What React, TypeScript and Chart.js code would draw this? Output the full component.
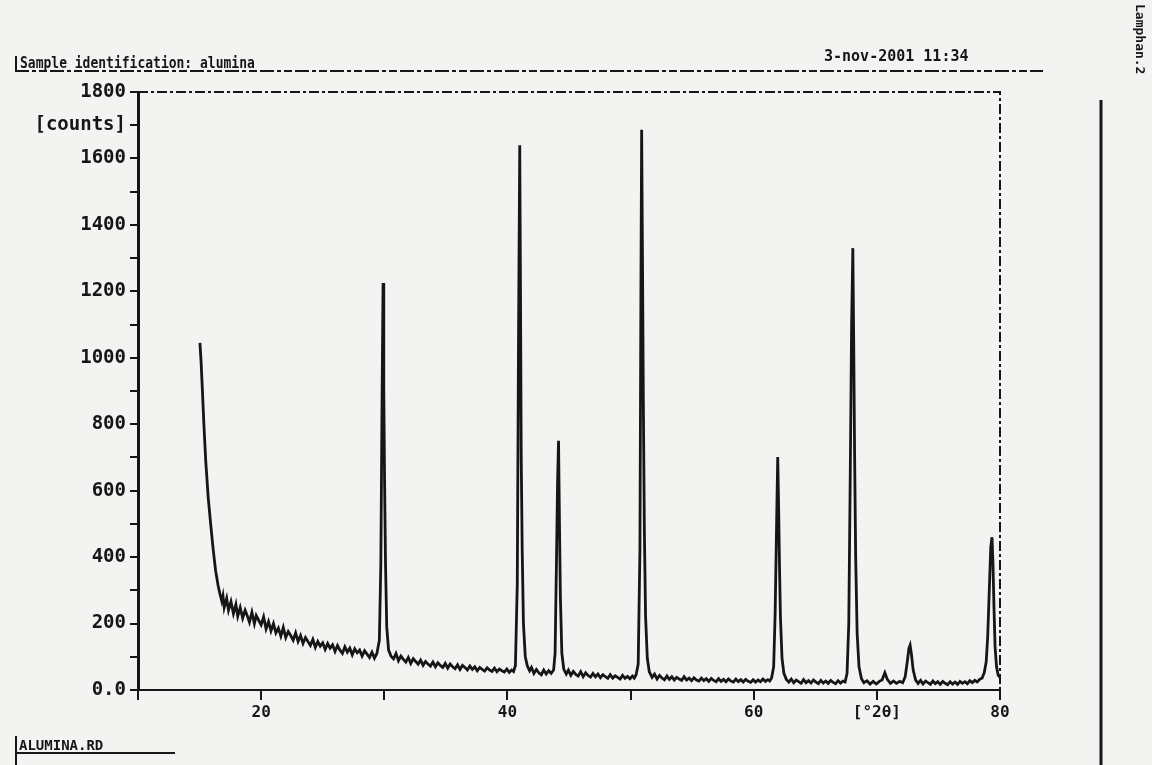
import React, { useEffect, useRef } from "react";
import { Chart, registerables } from "chart.js";

Chart.register(...registerables);

// ---- data: [2theta (deg), counts] ----
const lowAngle: [number, number][] = [
  [15.03, 1045], [15.12, 990], [15.22, 910], [15.35, 800], [15.5, 690], [15.7, 580], [15.9, 500], [16.1, 425],
  [16.3, 360], [16.5, 315], [16.65, 290], [16.8, 268], [16.9, 284], [17.0, 248], [17.2, 276], [17.35, 240],
  [17.55, 266], [17.75, 230], [17.95, 258], [18.1, 222], [18.3, 248], [18.5, 216], [18.7, 240], [18.85, 226],
  [19.05, 204], [19.25, 234], [19.45, 200], [19.6, 224], [19.8, 210], [20.0, 196], [20.2, 220], [20.4, 184],
  [20.6, 206], [20.8, 178], [21.0, 200], [21.2, 172], [21.4, 186], [21.6, 162], [21.8, 188], [22.0, 158],
  [22.2, 176], [22.4, 164], [22.6, 150], [22.8, 172], [23.0, 146], [23.2, 164], [23.4, 140], [23.6, 158],
  [23.8, 146], [24.0, 134], [24.2, 152], [24.4, 128], [24.6, 146], [24.8, 132], [25.0, 142], [25.2, 122],
  [25.4, 140], [25.6, 126], [25.8, 136], [26.0, 116], [26.2, 134], [26.4, 120], [26.6, 110], [26.8, 130],
  [27.0, 114], [27.2, 126], [27.4, 106], [27.6, 124], [27.8, 112], [28.0, 120], [28.2, 102], [28.4, 118],
  [28.6, 108], [28.8, 98], [29.0, 114], [29.2, 96], [29.4, 110],
];
const peak30: [number, number][] = [
  [29.6, 150], [29.72, 380], [29.82, 880], [29.9, 1225], [29.96, 900], [30.02, 640], [30.1, 380], [30.2, 190],
  [30.35, 120], [30.55, 102],
];
const midAngle: [number, number][] = [
  [30.75, 94], [30.95, 110], [31.15, 88], [31.35, 102], [31.55, 92], [31.75, 84], [31.95, 98], [32.15, 80],
  [32.35, 94], [32.55, 86], [32.75, 78], [32.95, 90], [33.15, 74], [33.35, 86], [33.55, 78], [33.75, 72],
  [33.95, 84], [34.15, 70], [34.35, 82], [34.55, 74], [34.75, 68], [34.95, 80], [35.15, 66], [35.35, 78],
  [35.55, 70], [35.75, 64], [35.95, 76], [36.15, 62], [36.35, 74], [36.55, 68], [36.75, 60], [36.95, 72],
  [37.15, 62], [37.35, 70], [37.55, 58], [37.75, 68], [37.95, 62], [38.15, 57], [38.35, 67], [38.55, 60],
  [38.75, 56], [38.95, 66], [39.15, 55], [39.35, 63], [39.55, 58], [39.75, 54], [39.95, 63], [40.15, 53],
  [40.35, 60], [40.5, 56],
];
const peak41: [number, number][] = [
  [40.65, 74], [40.8, 320], [40.9, 1050], [41.0, 1640], [41.06, 1200], [41.12, 700], [41.2, 420], [41.3, 200],
  [41.45, 100], [41.62, 72], [41.8, 58], [41.95, 68], [42.15, 50], [42.35, 62], [42.55, 52], [42.75, 46],
  [42.95, 60], [43.15, 48], [43.35, 58], [43.55, 50], [43.75, 60],
];
const peak44: [number, number][] = [
  [43.87, 110], [43.98, 380], [44.07, 620], [44.15, 750], [44.22, 520], [44.3, 280], [44.42, 110], [44.58, 62],
  [44.78, 48], [44.95, 60], [45.15, 44], [45.35, 56], [45.55, 47], [45.75, 42], [45.95, 55], [46.15, 40],
  [46.35, 52], [46.55, 44], [46.75, 39], [46.95, 50], [47.15, 40], [47.35, 48], [47.55, 37], [47.75, 46],
  [47.95, 40], [48.15, 35], [48.35, 46], [48.55, 36], [48.75, 43], [48.95, 38], [49.15, 33], [49.35, 44],
  [49.55, 35], [49.75, 41], [49.95, 34], [50.15, 42], [50.3, 36],
];
const peak51: [number, number][] = [
  [50.45, 46], [50.62, 78], [50.76, 420], [50.84, 1200], [50.9, 1686], [50.97, 1280], [51.04, 850], [51.12, 480],
  [51.22, 220], [51.36, 95], [51.52, 55], [51.75, 38], [51.95, 48], [52.15, 33], [52.35, 44], [52.55, 36],
  [52.75, 31], [52.95, 42], [53.15, 32], [53.35, 40], [53.55, 30], [53.75, 38], [53.95, 33], [54.15, 29],
  [54.35, 40], [54.55, 30], [54.75, 36], [54.95, 28], [55.15, 37], [55.35, 30], [55.55, 27], [55.75, 36],
  [55.95, 28], [56.15, 34], [56.35, 26], [56.55, 35], [56.75, 29], [56.95, 25], [57.15, 34], [57.35, 26],
  [57.55, 32], [57.75, 25], [57.95, 33], [58.15, 27], [58.35, 24], [58.55, 33], [58.75, 25], [58.95, 31],
  [59.15, 24], [59.35, 32], [59.55, 26], [59.75, 23], [59.95, 31], [60.15, 24], [60.35, 30], [60.55, 25],
  [60.75, 33], [60.95, 26], [61.15, 31], [61.3, 27],
];
const peak62: [number, number][] = [
  [61.45, 36], [61.62, 70], [61.74, 230], [61.85, 480], [61.95, 701], [62.02, 560], [62.09, 380], [62.17, 220],
  [62.3, 95], [62.45, 50], [62.65, 32], [62.85, 24], [63.05, 33], [63.25, 22], [63.45, 30], [63.65, 25],
  [63.85, 20], [64.05, 31], [64.25, 22], [64.45, 28], [64.65, 21], [64.85, 30], [65.05, 24], [65.25, 19],
  [65.45, 29], [65.65, 21], [65.85, 27], [66.05, 20], [66.25, 29], [66.45, 23], [66.65, 19], [66.85, 28],
  [67.05, 21], [67.25, 27],
];
const peak68: [number, number][] = [
  [67.42, 24], [67.58, 50], [67.72, 200], [67.84, 650], [67.95, 1100], [68.05, 1330], [68.12, 1050], [68.19, 720],
  [68.28, 400], [68.4, 170], [68.55, 70], [68.75, 34], [68.95, 22], [69.2, 28], [69.45, 18], [69.7, 26],
  [69.95, 18], [70.2, 26], [70.42, 30], [70.65, 52], [70.85, 32], [71.1, 20], [71.35, 27], [71.6, 20],
  [71.85, 26], [72.1, 22],
];
const highAngle: [number, number][] = [
  [72.3, 40], [72.47, 85], [72.6, 125], [72.7, 135], [72.8, 110], [72.95, 60], [73.15, 30], [73.35, 20],
  [73.55, 29], [73.75, 18], [73.95, 27], [74.15, 22], [74.35, 17], [74.55, 27], [74.75, 19], [74.95, 25],
  [75.15, 17], [75.35, 26], [75.55, 20], [75.75, 16], [75.95, 25], [76.15, 18], [76.35, 24], [76.55, 17],
  [76.75, 26], [76.95, 20], [77.15, 25], [77.35, 19], [77.55, 28], [77.75, 22], [77.95, 29], [78.15, 24],
  [78.35, 32], [78.55, 36], [78.72, 52], [78.88, 85], [79.0, 160], [79.13, 300], [79.25, 430], [79.35, 460],
  [79.43, 380], [79.51, 250], [79.6, 130], [79.72, 70], [79.85, 45], [80.0, 38],
];

const xLabelValues = [20, 40, 60, 70, 80];
const xLabelTexts = ["20", "40", "60", "[°2θ]", "80"];
const yLabelValues = [0, 200, 400, 600, 800, 1000, 1200, 1400, 1600, 1700, 1800];
const yLabelTexts = ["0.0", "200", "400", "600", "800", "1000", "1200", "1400", "1600", "[counts]", "1800"];

const sampleTitle = "Sample identification: alumina";
const dateText = "3-nov-2001 11:34";
const fileName = "ALUMINA.RD";
const sideLabel = "Lamphan.2";

const INK = "#161616";
const MONO = "'DejaVu Sans Mono', 'Liberation Mono', monospace";

const framePlugin = {
  id: "frame",
  afterDraw(chart: any) {
    const { ctx, chartArea } = chart;
    const { left, right, top, bottom } = chartArea;
    ctx.save();
    ctx.strokeStyle = INK;
    ctx.lineWidth = 2;
    ctx.setLineDash([10, 3, 3, 3]);
    ctx.beginPath();
    ctx.moveTo(left, top);
    ctx.lineTo(right, top);
    ctx.lineTo(right, bottom);
    ctx.stroke();
    // header underline
    ctx.setLineDash([14, 3, 4, 3, 8, 3]);
    ctx.beginPath();
    ctx.moveTo(15, 71);
    ctx.lineTo(1043, 71);
    ctx.stroke();
    ctx.setLineDash([]);
    ctx.lineWidth = 2;
    ctx.beginPath();
    ctx.moveTo(16, 56);
    ctx.lineTo(16, 72);
    ctx.stroke();
    // footer underline and bracket
    ctx.beginPath();
    ctx.moveTo(16, 753);
    ctx.lineTo(175, 753);
    ctx.stroke();
    ctx.beginPath();
    ctx.moveTo(16, 736);
    ctx.lineTo(16, 765);
    ctx.stroke();
    // right margin rule
    ctx.lineWidth = 3;
    ctx.beginPath();
    ctx.moveTo(1101, 100);
    ctx.lineTo(1101, 765);
    ctx.stroke();
    ctx.restore();
  },
};

function XrdChart() {
  const ref = useRef<HTMLCanvasElement | null>(null);
  useEffect(() => {
    if (!ref.current) return;
    const trace = [...lowAngle, ...peak30, ...midAngle, ...peak41, ...peak44, ...peak51, ...peak62, ...peak68, ...highAngle];
    const chart = new Chart(ref.current, {
      type: "line",
      data: {
        datasets: [
          {
            data: trace.map(([x, y]) => ({ x, y })),
            borderColor: INK,
            borderWidth: 2.8,
            pointRadius: 0,
            tension: 0,
            fill: false,
          },
        ],
      },
      options: {
        animation: false,
        responsive: false,
        devicePixelRatio: 1,
        layout: { padding: { left: 0, right: 152, top: 92, bottom: 0 } },
        plugins: { legend: { display: false }, tooltip: { enabled: false }, title: { display: false } },
        scales: {
          x: {
            type: "linear",
            min: 10,
            max: 80,
            afterFit(scale: any) {
              scale.height = 75;
            },
            border: { display: true, color: INK, width: 2, dash: [12, 3, 3, 3] },
            grid: { display: true, drawOnChartArea: false, drawTicks: true, tickLength: 10, color: INK, lineWidth: 2 },
            ticks: {
              stepSize: 10,
              autoSkip: false,
              maxRotation: 0,
              padding: 3,
              color: INK,
              font: { family: MONO, size: 16, weight: "bold" },
              callback: (v: any) => {
                const i = xLabelValues.indexOf(Number(v));
                return i >= 0 ? xLabelTexts[i] : "";
              },
            },
          },
          y: {
            type: "linear",
            min: 0,
            max: 1800,
            afterFit(scale: any) {
              scale.width = 138;
            },
            border: { display: true, color: INK, width: 3 },
            grid: { display: true, drawOnChartArea: false, drawTicks: true, tickLength: 8, color: INK, lineWidth: 2 },
            ticks: {
              stepSize: 100,
              autoSkip: false,
              padding: 4,
              color: INK,
              font: { family: MONO, size: 19, weight: "bold" },
              callback: (v: any) => {
                const i = yLabelValues.indexOf(Number(v));
                return i >= 0 ? yLabelTexts[i] : "";
              },
            },
          },
        },
      },
      plugins: [framePlugin],
    });
    return () => chart.destroy();
  }, []);
  return <canvas ref={ref} width={1152} height={765} style={{ position: "absolute", left: 0, top: 0 }} />;
}

export default function App() {
  useEffect(() => {
    document.body.style.margin = "0";
  }, []);
  const txt: React.CSSProperties = {
    position: "absolute",
    fontFamily: MONO,
    fontWeight: "bold",
    color: INK,
    whiteSpace: "nowrap",
    lineHeight: 1,
  };
  return (
    <div style={{ position: "relative", width: 1152, height: 765, background: "#f3f3f1", overflow: "hidden" }}>
      <XrdChart />
      <div style={{ ...txt, left: 20, top: 55, fontSize: 13, transform: "scaleY(1.2)", transformOrigin: "left top" }}>
        {sampleTitle}
      </div>
      <div style={{ ...txt, left: 824, top: 48, fontSize: 15, transform: "scaleY(1.1)", transformOrigin: "left top" }}>
        {dateText}
      </div>
      <div style={{ ...txt, left: 19, top: 738, fontSize: 14 }}>{fileName}</div>
      <div
        style={{
          ...txt,
          left: 1133,
          top: 4,
          fontSize: 13,
          transform: "rotate(90deg)",
          transformOrigin: "left top",
          marginLeft: 14,
        }}
      >
        {sideLabel}
      </div>
    </div>
  );
}
